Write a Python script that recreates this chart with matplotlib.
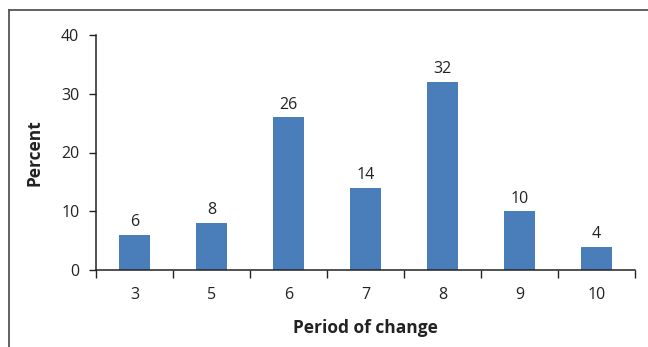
import matplotlib
matplotlib.use("Agg")
import matplotlib.pyplot as plt
from matplotlib.lines import Line2D
import numpy as np

categories = ["3", "5", "6", "7", "8", "9", "10"]
percent = [6, 8, 26, 14, 32, 10, 4]
yticks = [0, 10, 20, 30, 40]

plt.rcParams["font.family"] = ["Open Sans", "DejaVu Sans"]

W, H = 648, 347
fig = plt.figure(figsize=(W / 100, H / 100), dpi=100)
ax = fig.add_axes([96 / W, 1 - 270 / H, (635 - 96) / W, (270 - 35) / H])

x = np.arange(len(categories))
bar_color = "#4a7ebb"
ax.bar(x, percent, width=0.41, color=bar_color, zorder=2)
for xi, v in zip(x, percent):
    ax.text(xi, v + 0.8, str(v), ha="center", va="bottom", fontsize=11.5, color="#222222")

ax.set_xlim(-0.5, len(categories) - 0.5)
ax.set_ylim(0, 40)
ax.set_yticks(yticks)
ax.set_yticklabels([str(t) for t in yticks], fontsize=11.5, color="#222222")

# category labels centred, tick marks on category boundaries
ax.set_xticks(np.arange(-0.5, len(categories), 1.0))
ax.set_xticklabels([])
ax.set_xticks(x, minor=True)
ax.set_xticklabels(categories, minor=True, fontsize=11.5, color="#222222")
ax.tick_params(axis="x", which="major", direction="out", length=6, width=1, color="#222222")
ax.tick_params(axis="x", which="minor", length=0, pad=12)
ax.tick_params(axis="y", direction="out", length=5, width=1, color="#222222", pad=7)

for s in ["top", "right"]:
    ax.spines[s].set_visible(False)
for s in ["left", "bottom"]:
    ax.spines[s].set_color("#222222")
    ax.spines[s].set_linewidth(1.1)

ax.set_ylabel("Percent", fontsize=12.5, fontweight="bold", color="#222222", labelpad=13)
ax.set_xlabel("Period of change", fontsize=12.5, fontweight="bold", color="#222222", labelpad=12)

# frame lines along the top and left edge of the figure
fig.add_artist(Line2D([8.5 / W, 1.0], [1 - 9.5 / H, 1 - 9.5 / H], transform=fig.transFigure,
                      color="#555555", linewidth=1.3))
fig.add_artist(Line2D([8.5 / W, 8.5 / W], [0, 1 - 9.5 / H], transform=fig.transFigure,
                      color="#555555", linewidth=1.3))

fig.savefig("out.png", dpi=100)
